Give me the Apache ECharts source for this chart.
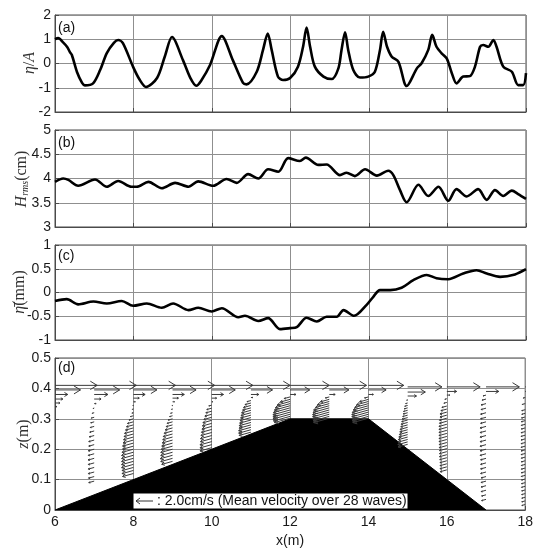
<!DOCTYPE html>
<html><head><meta charset="utf-8">
<script src="https://cdn.jsdelivr.net/npm/echarts@6/dist/echarts.min.js"></script>
<style>html,body{margin:0;padding:0;background:#fff}#c{width:536px;height:549px}</style>
</head><body><div id="c"></div>
<script>
// ---------- data ----------
const xTicks = [6, 8, 10, 12, 14, 16, 18];
// (a) normalized surface elevation
const xA = [6.00,6.08,6.20,6.31,6.38,6.43,6.56,6.69,6.76,6.97,7.15,7.32,7.50,7.61,7.73,7.99,8.15,8.32,8.60,8.80,8.98,9.26,9.45,9.60,9.72,9.95,10.25,10.53,10.79,10.88,11.14,11.30,11.42,11.52,11.68,11.81,11.99,12.19,12.32,12.41,12.50,12.62,12.84,13.05,13.22,13.30,13.39,13.47,13.60,13.77,13.98,14.15,14.28,14.36,14.46,14.58,14.75,14.96,15.22,15.34,15.51,15.61,15.72,15.85,15.98,16.11,16.23,16.40,16.57,16.70,16.83,16.91,17.04,17.17,17.25,17.42,17.64,17.80,17.93,18.00];
const etaA = [1.00,1.05,0.88,0.68,0.47,0.35,-0.35,-0.80,-0.90,-0.82,-0.27,0.43,0.85,0.97,0.84,-0.14,-0.65,-0.97,-0.60,0.30,1.09,0.14,-0.60,-0.92,-0.72,-0.06,1.13,0.14,-0.80,-0.86,-0.34,0.56,1.24,0.56,-0.54,-0.68,-0.60,-0.13,0.69,1.48,0.69,-0.13,-0.54,-0.64,-0.20,0.56,1.29,0.56,-0.27,-0.58,-0.54,-0.34,0.56,1.31,0.69,0.28,0.07,-0.93,-0.20,0.01,0.56,1.18,0.69,0.42,0.21,-0.40,-0.82,-0.54,-0.52,-0.13,0.69,0.76,0.69,0.97,0.69,-0.13,-0.34,-0.89,-0.89,-0.40];
// (b) Hrms (cm)
const xB = [6.00,6.21,6.34,6.59,7.02,7.32,7.61,7.95,8.08,8.38,8.72,9.06,9.40,9.65,10.03,10.37,10.63,10.92,11.18,11.43,11.69,11.94,12.24,12.39,12.71,12.92,13.26,13.43,13.64,13.90,14.20,14.49,14.62,14.79,14.96,15.26,15.51,15.77,16.02,16.23,16.49,16.78,17.00,17.21,17.42,17.64,17.80,18.00];
const hrmsB = [3.93,4.00,3.97,3.85,3.98,3.83,3.95,3.83,3.83,3.93,3.80,3.91,3.83,3.94,3.85,3.99,3.91,4.09,4.00,4.19,4.14,4.42,4.36,4.43,4.28,4.29,4.07,4.12,4.05,4.19,4.06,4.16,4.07,3.76,3.51,3.87,3.64,3.83,3.54,3.78,3.63,3.78,3.56,3.76,3.64,3.75,3.68,3.58];
// (c) mean water level (mm)
const xC = [6.00,6.30,6.59,6.98,7.32,7.70,7.99,8.34,8.72,9.01,9.40,9.65,9.99,10.25,10.67,10.84,11.18,11.43,11.73,11.99,12.16,12.41,12.67,12.92,13.18,13.35,13.62,13.94,14.11,14.28,14.54,14.83,15.13,15.47,15.72,16.02,16.40,16.74,17.00,17.34,17.72,18.00];
const setupC = [-0.18,-0.14,-0.25,-0.19,-0.23,-0.18,-0.28,-0.23,-0.32,-0.23,-0.37,-0.32,-0.40,-0.33,-0.52,-0.49,-0.60,-0.54,-0.77,-0.75,-0.73,-0.53,-0.61,-0.51,-0.51,-0.37,-0.49,-0.26,-0.09,0.05,0.05,0.10,0.26,0.37,0.30,0.28,0.40,0.47,0.40,0.33,0.38,0.49];
// (d) bathymetry
const bedX = [6, 12, 14, 17];
const bedZ = [0, 0.3, 0.3, 0];
// (d) mean velocity stations: x (m), z levels (m), u (cm/s)
const vecX = [6, 7, 8, 9, 10, 11, 12, 13, 14, 15, 16, 17, 18];
const vecZ = [
  [0.41,0.395,0.38,0.365,0.352,0.34],
  [0.41,0.395,0.38,0.365,0.35,0.335,0.32,0.305,0.29,0.275,0.26,0.245,0.23,0.215,0.2,0.185,0.17,0.155,0.14,0.125,0.11,0.095],
  [0.41,0.395,0.38,0.368,0.356,0.344,0.332,0.32,0.31,0.30,0.29,0.28,0.27,0.26,0.25,0.24,0.23,0.22,0.21,0.20,0.19,0.18,0.17,0.16,0.15,0.14,0.13,0.12],
  [0.41,0.395,0.38,0.368,0.356,0.344,0.332,0.32,0.31,0.30,0.29,0.28,0.27,0.26,0.25,0.24,0.23,0.22,0.21,0.20,0.19,0.18,0.17,0.16],
  [0.41,0.395,0.38,0.368,0.356,0.345,0.335,0.325,0.315,0.305,0.295,0.285,0.275,0.265,0.255,0.245,0.235,0.225,0.215,0.205],
  [0.41,0.395,0.38,0.37,0.36,0.352,0.344,0.336,0.328,0.32,0.312,0.304,0.296,0.288,0.28,0.272,0.264,0.256],
  [0.41,0.395,0.38,0.372,0.364,0.357,0.35,0.343,0.336,0.329,0.322,0.315,0.308,0.302],
  [0.41,0.395,0.38,0.372,0.364,0.357,0.35,0.343,0.336,0.329,0.322,0.315,0.308,0.302],
  [0.41,0.395,0.38,0.372,0.364,0.357,0.35,0.343,0.336,0.329,0.322,0.315,0.308,0.302],
  [0.405,0.388,0.375,0.362,0.352,0.344,0.336,0.328,0.32,0.312,0.304,0.296,0.288,0.28,0.272,0.264,0.256,0.248,0.24,0.232,0.224,0.216],
  [0.405,0.39,0.378,0.366,0.354,0.342,0.332,0.322,0.312,0.302,0.292,0.282,0.272,0.262,0.252,0.242,0.232,0.222,0.212,0.202,0.192,0.182,0.172,0.162,0.152,0.142,0.132],
  [0.405,0.39,0.378,0.365,0.35,0.335,0.32,0.305,0.29,0.275,0.26,0.245,0.23,0.215,0.2,0.185,0.17,0.155,0.14,0.125,0.11,0.095,0.08,0.065,0.05,0.035],
  [0.405,0.39,0.37,0.35,0.33,0.318,0.306,0.294,0.282,0.27,0.258,0.246,0.234,0.222,0.21,0.198,0.186,0.174,0.162,0.15,0.138,0.126,0.114,0.102,0.09,0.078,0.066,0.054,0.042,0.03,0.018]
];
const vecU = [
  [4.3,2.6,1.3,0.8,0.5,0.2],
  [4.3,2.6,1.4,0.7,0.2,-0.1,-0.2,-0.3,-0.35,-0.4,-0.45,-0.5,-0.55,-0.55,-0.6,-0.6,-0.62,-0.6,-0.6,-0.6,-0.58,-0.55],
  [4.3,2.4,1.2,0.6,0.2,-0.05,-0.1,-0.15,-0.3,-0.45,-0.6,-0.7,-0.8,-0.9,-0.95,-1.0,-1.05,-1.1,-1.1,-1.15,-1.2,-1.2,-1.2,-1.2,-1.2,-1.15,-1.15,-1.1],
  [4.3,2.4,1.2,0.6,0.2,-0.05,-0.1,-0.2,-0.3,-0.45,-0.55,-0.65,-0.75,-0.85,-0.95,-1.0,-1.05,-1.1,-1.15,-1.2,-1.2,-1.25,-1.2,-1.1],
  [4.2,2.4,1.2,0.5,0.1,-0.3,-0.5,-0.6,-0.7,-0.8,-0.9,-0.95,-1.0,-1.05,-1.1,-1.15,-1.15,-1.2,-1.2,-1.2],
  [4.0,2.2,0.8,0.2,-0.4,-0.6,-0.75,-0.85,-0.95,-1.0,-1.05,-1.1,-1.15,-1.2,-1.2,-1.25,-1.25,-1.2],
  [4.0,2.0,0.6,-0.6,-1.0,-1.3,-1.5,-1.6,-1.7,-1.75,-1.75,-1.75,-1.7,-1.6],
  [3.8,2.0,0.6,-0.4,-0.9,-1.2,-1.4,-1.6,-1.65,-1.7,-1.7,-1.7,-1.65,-1.6],
  [3.6,1.8,0.5,-0.4,-0.9,-1.2,-1.4,-1.55,-1.65,-1.7,-1.7,-1.7,-1.65,-1.6],
  [3.5,1.8,0.9,-0.1,-0.2,-0.3,-0.35,-0.42,-0.45,-0.5,-0.56,-0.6,-0.66,-0.7,-0.76,-0.8,-0.84,-0.9,-0.95,-0.98,-1.0,-0.98],
  [3.4,1.0,0.3,-0.2,-0.3,-0.5,-0.6,-0.7,-0.7,-0.75,-0.75,-0.8,-0.8,-0.8,-0.8,-0.8,-0.8,-0.78,-0.78,-0.75,-0.75,-0.75,-0.72,-0.7,-0.7,-0.7,-0.68],
  [3.4,1.3,-0.3,-0.4,-0.5,-0.5,-0.55,-0.55,-0.55,-0.6,-0.6,-0.6,-0.6,-0.6,-0.6,-0.6,-0.55,-0.55,-0.55,-0.55,-0.5,-0.5,-0.5,-0.5,-0.45,-0.45],
  [3.2,1.2,-0.2,-0.3,-0.35,-0.35,-0.38,-0.4,-0.4,-0.4,-0.42,-0.42,-0.42,-0.42,-0.42,-0.42,-0.42,-0.4,-0.4,-0.4,-0.4,-0.4,-0.4,-0.38,-0.38,-0.38,-0.36,-0.36,-0.35,-0.35,-0.34]
];

// ---------- build ----------
const VEC_SCALE = 0.25; // m of x per cm/s
const pairs = (xs, ys) => xs.map((x, i) => [x, ys[i]]);
const vecData = [];
vecX.forEach((x, s) => vecZ[s].forEach((z, k) => vecData.push([x, z, vecU[s][k]])));

const GRID_COLOR = '#8f8f8f';
const FRAME = '#4a4a4a';
const grids = [
  {left: 55, right: 10, top: 15, height: 97},
  {left: 55, right: 10, top: 130, height: 97},
  {left: 55, right: 10, top: 245, height: 95},
  {left: 55, right: 10, top: 358, height: 158}
].map(g => Object.assign(g, {show: true, borderColor: FRAME, borderWidth: 1, containLabel: false}));

const labelFont = {color: '#1a1a1a', fontSize: 14, fontFamily: 'Liberation Sans, Arial, sans-serif'};
const xAxes = [0,1,2,3].map(i => ({
  type: 'value', gridIndex: i, min: 6, max: 18, interval: 2,
  axisLine: {show: true, onZero: false, lineStyle: {color: FRAME}},
  axisTick: {show: true, inside: true, length: 4, lineStyle: {color: FRAME}},
  axisLabel: Object.assign({show: i === 3, margin: 5}, labelFont),
  splitLine: {show: true, lineStyle: {color: GRID_COLOR, width: 1}},
  name: i === 3 ? 'x(m)' : '', nameLocation: 'middle', nameGap: 24,
  nameTextStyle: labelFont
}));
const serifRich = {
  i: {fontFamily: 'Liberation Serif, Times New Roman, serif', fontStyle: 'italic', fontSize: 16, fill: '#333'},
  n: {fontFamily: 'Liberation Serif, Times New Roman, serif', fontSize: 16, fill: '#333'},
  sub: {fontFamily: 'Liberation Serif, Times New Roman, serif', fontStyle: 'italic', fontSize: 10, fill: '#333', padding: [6, 0, 0, 0]}
};
const yDefs = [
  {min: -2, max: 2, interval: 1},
  {min: 3, max: 5, interval: 0.5},
  {min: -1, max: 1, interval: 0.5},
  {min: 0, max: 0.5, interval: 0.1}
];
const yNames = ['{i|η}{n|/}{i|A}', '{i|H}{sub|rms}{n|(cm)}', '{i|η̄}{n|(mm)}', '{i|z}{n|(m)}'];
const yAxes = yDefs.map((d, i) => ({
  type: 'value', gridIndex: i, min: d.min, max: d.max, interval: d.interval,
  axisLine: {show: true, lineStyle: {color: FRAME}},
  axisTick: {show: true, inside: true, length: 4, lineStyle: {color: FRAME}},
  axisLabel: Object.assign({margin: 4}, labelFont),
  splitLine: {show: true, lineStyle: {color: GRID_COLOR, width: 1}}
}));

const lineSeries = (data, i) => ({
  type: 'line', xAxisIndex: i, yAxisIndex: i, data: data, showSymbol: false, symbol: 'none',
  smooth: 0.3, lineStyle: {color: '#000', width: 2.6}, z: 5
});

function renderArrow(params, api) {
  const x = api.value(0), z = api.value(1), u = api.value(2);
  const p0 = api.coord([x, z]);
  const p1 = api.coord([x + u * VEC_SCALE, z]);
  const len = Math.abs(p1[0] - p0[0]);
  const tip = [p1[0], p1[1] + (u < 0 ? len * 0.28 : 0)];
  const ang = Math.atan2(tip[1] - p0[1], tip[0] - p0[0]);
  const h = Math.min(8, Math.max(0.8, len * 0.3));
  const a1 = ang + Math.PI - 0.55, a2 = ang + Math.PI + 0.55;
  const h1 = [tip[0] + h * Math.cos(a1), tip[1] + h * Math.sin(a1)];
  const h2 = [tip[0] + h * Math.cos(a2), tip[1] + h * Math.sin(a2)];
  const style = {stroke: '#3a3a3a', lineWidth: 1, fill: null};
  return {type: 'group', children: [
    {type: 'polyline', shape: {points: [p0, tip]}, style: style},
    {type: 'polyline', shape: {points: [h1, tip, h2]}, style: style}
  ]};
}

const panelLabel = (t, y) => ({type: 'text', left: 58, top: y, style: {text: t, fontSize: 14, fontFamily: 'Liberation Sans, Arial, sans-serif', fill: '#111'}, z: 20});
const yNamePos = [[30, 63], [22, 179], [20, 292], [24, 434]];
const yNameGraphics = yNames.map((t, i) => ({
  type: 'text', x: yNamePos[i][0], y: yNamePos[i][1], rotation: Math.PI / 2,
  style: {text: t, rich: serifRich, align: 'center', verticalAlign: 'middle'}, z: 20
}));

const chart = echarts.init(document.getElementById('c'), null, {renderer: 'canvas'});
chart.setOption({
  animation: false,
  backgroundColor: '#fff',
  grid: grids,
  xAxis: xAxes,
  yAxis: yAxes,
  series: [
    lineSeries(pairs(xA, etaA), 0),
    lineSeries(pairs(xB, hrmsB), 1),
    lineSeries(pairs(xC, setupC), 2),
    {type: 'line', xAxisIndex: 3, yAxisIndex: 3, data: pairs(bedX, bedZ), symbol: 'none',
     lineStyle: {color: '#000', width: 1}, areaStyle: {color: '#000', opacity: 1}, z: 3},
    {type: 'custom', xAxisIndex: 3, yAxisIndex: 3, data: vecData, renderItem: renderArrow, clip: true, z: 4}
  ],
  graphic: [
    panelLabel('(a)', 21), panelLabel('(b)', 136), panelLabel('(c)', 249), panelLabel('(d)', 361),
    ...yNameGraphics,
    {type: 'rect', shape: {x: 133, y: 493, width: 275, height: 16}, style: {fill: '#fff', stroke: '#000', lineWidth: 1}, z: 20},
    {type: 'polyline', shape: {points: [[140, 498], [136, 501], [140, 504]]}, style: {stroke: '#333', lineWidth: 1, fill: null}, z: 21},
    {type: 'line', shape: {x1: 136, y1: 501, x2: 153, y2: 501}, style: {stroke: '#333', lineWidth: 1}, z: 21},
    {type: 'text', x: 157, y: 501, style: {text: ': 2.0cm/s (Mean velocity over 28 waves)', fontSize: 14, fontFamily: 'Liberation Sans, Arial, sans-serif', fill: '#111', verticalAlign: 'middle'}, z: 21}
  ]
});
</script></body></html>
